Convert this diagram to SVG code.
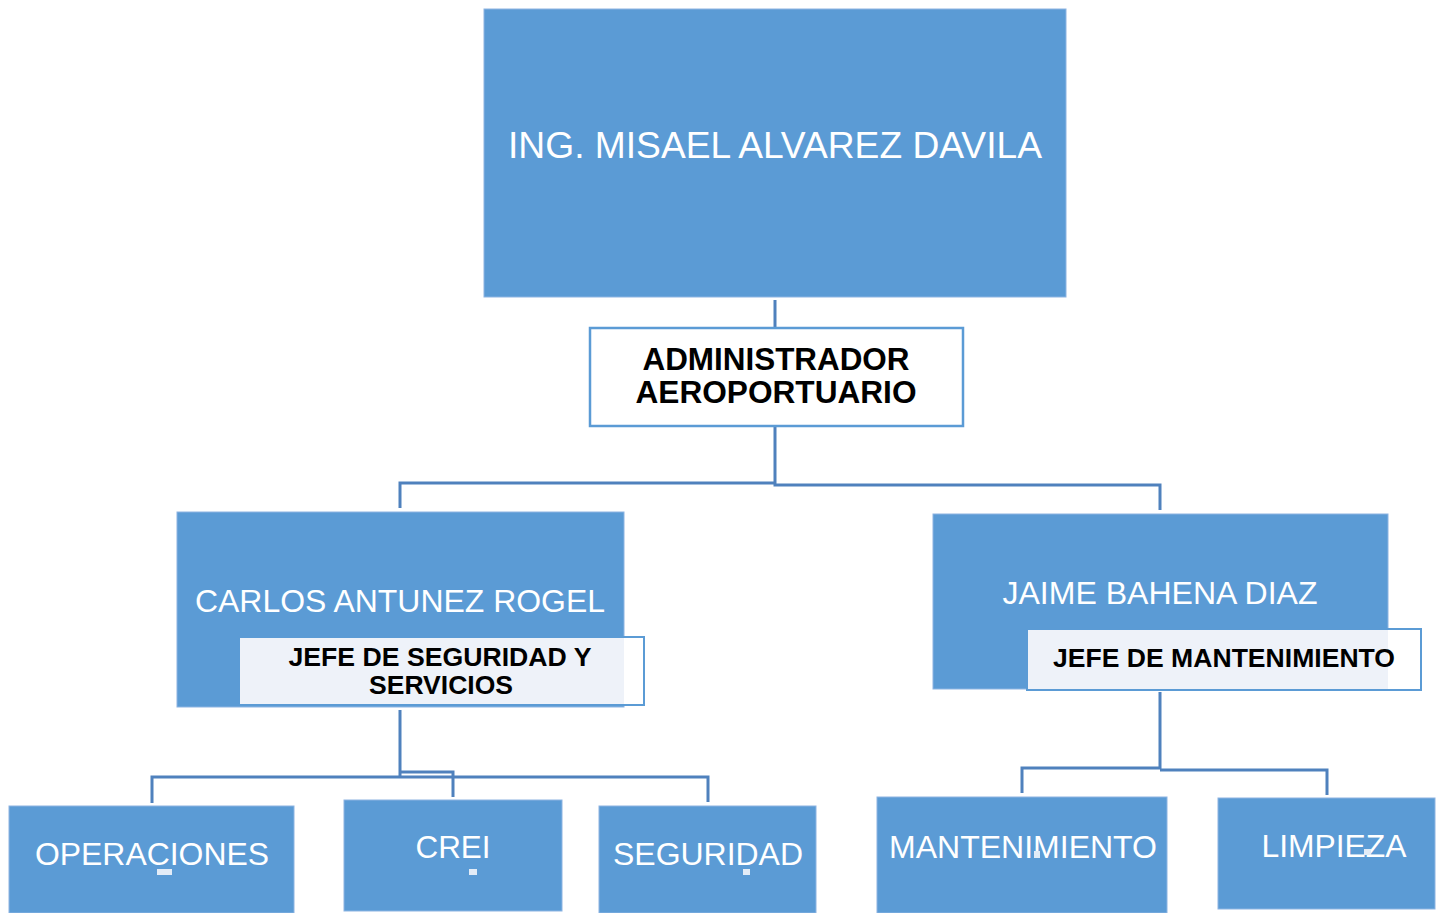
<svg xmlns="http://www.w3.org/2000/svg" width="1441" height="913" viewBox="0 0 1441 913">
<style>
.box{fill:#5B9BD5;stroke:#8DB4E2;stroke-width:1}
.sub{fill:#FFFFFF;stroke:#5B9BD5;stroke-width:2}
.subf{fill:#EEF2F9}
.adm{fill:#FFFFFF;stroke:#5B9BD5;stroke-width:2.5}
.w{font-family:"Liberation Sans",Arial,sans-serif;fill:#FFFFFF;text-anchor:middle}
.b{font-family:"Liberation Sans",Arial,sans-serif;fill:#000000;font-weight:bold;text-anchor:middle}
.c{fill:none;stroke:#4F81BD;stroke-width:3}
.dot{fill:#E3ECF7}
</style>
<rect width="1441" height="913" fill="#FFFFFF"/>
<g id="connectors">
<path class="c" d="M775 300V328M775 426V484M400 508V483H775M775 484V485H1160V510"/>
<path class="c" d="M400 710V777M152 803V777H708V802M400 772H453V797"/>
<path class="c" d="M1160 692V769M1022 793V768H1160M1160 770H1327V795"/>
</g>
<g id="n-director">
<rect class="box" x="484" y="9" width="582" height="288"/>
<text class="w" x="775" y="158" font-size="36" textLength="534" lengthAdjust="spacingAndGlyphs">ING. MISAEL ALVAREZ DAVILA</text>
</g>
<g id="n-admin">
<rect class="adm" x="590" y="328" width="373" height="98"/>
<text class="b" x="776" y="370" font-size="31" textLength="267" lengthAdjust="spacingAndGlyphs">ADMINISTRADOR</text>
<text class="b" x="776" y="403" font-size="31" textLength="281" lengthAdjust="spacingAndGlyphs">AEROPORTUARIO</text>
</g>
<g id="n-carlos">
<rect class="box" x="177" y="512" width="447" height="195"/>
<text class="w" x="400" y="612" font-size="31" textLength="410" lengthAdjust="spacingAndGlyphs">CARLOS ANTUNEZ ROGEL</text>
<rect class="sub" x="239" y="637" width="405" height="68"/>
<rect class="subf" x="240" y="638" width="384" height="66"/>
<text class="b" x="440" y="666" font-size="26" textLength="303" lengthAdjust="spacingAndGlyphs">JEFE DE SEGURIDAD Y</text>
<text class="b" x="441" y="694" font-size="26" textLength="144" lengthAdjust="spacingAndGlyphs">SERVICIOS</text>
</g>
<g id="n-jaime">
<rect class="box" x="933" y="514" width="455" height="175"/>
<text class="w" x="1160" y="604" font-size="31" textLength="315" lengthAdjust="spacingAndGlyphs">JAIME BAHENA DIAZ</text>
<rect class="sub" x="1027" y="629" width="394" height="61"/>
<rect class="subf" x="1028" y="630" width="360" height="59"/>
<text class="b" x="1224" y="667" font-size="26" textLength="342" lengthAdjust="spacingAndGlyphs">JEFE DE MANTENIMIENTO</text>
</g>
<g id="n-operaciones">
<rect class="box" x="9" y="806" width="285" height="107"/>
<text class="w" x="152" y="865" font-size="31" textLength="234" lengthAdjust="spacingAndGlyphs">OPERACIONES</text>
<rect class="dot" x="157" y="869" width="15" height="6"/>
</g>
<g id="n-crei">
<rect class="box" x="344" y="800" width="218" height="111"/>
<text class="w" x="453" y="858" font-size="31" textLength="75" lengthAdjust="spacingAndGlyphs">CREI</text>
<rect class="dot" x="469" y="869" width="8" height="6"/>
</g>
<g id="n-seguridad">
<rect class="box" x="599" y="806" width="217" height="107"/>
<text class="w" x="708" y="865" font-size="31" textLength="190" lengthAdjust="spacingAndGlyphs">SEGURIDAD</text>
<rect class="dot" x="743" y="869" width="7" height="6"/>
</g>
<g id="n-mantenimiento">
<rect class="box" x="877" y="797" width="290" height="116"/>
<text class="w" x="1023" y="858" font-size="31" textLength="268" lengthAdjust="spacingAndGlyphs">MANTENIMIENTO</text>
<rect class="dot" x="1034" y="851" width="6" height="7"/>
</g>
<g id="n-limpieza">
<rect class="box" x="1218" y="798" width="217" height="111"/>
<text class="w" x="1334" y="857" font-size="31" textLength="145" lengthAdjust="spacingAndGlyphs">LIMPIEZA</text>
<rect class="dot" x="1364" y="849" width="7" height="6"/>
</g>
</svg>
